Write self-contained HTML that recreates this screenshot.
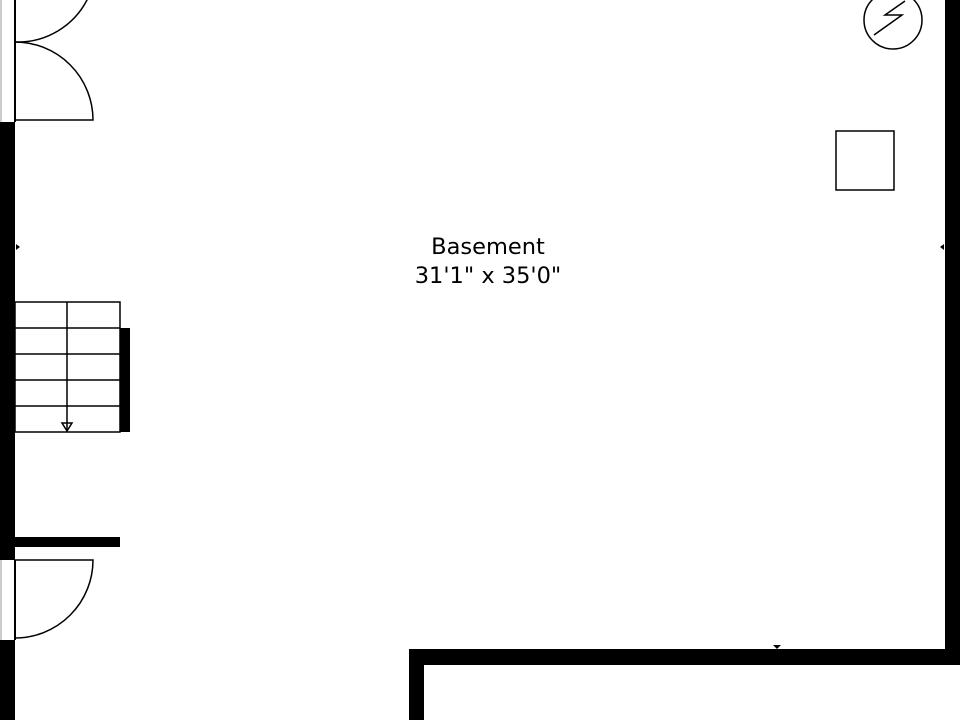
<!DOCTYPE html>
<html><head><style>body{margin:0;background:#fff}svg{display:block}</style></head><body>
<svg width="960" height="720" viewBox="0 0 960 720" xmlns="http://www.w3.org/2000/svg">
<rect width="960" height="720" fill="#fff"/>
<line x1="1" y1="0" x2="1" y2="122" stroke="#999" stroke-width="1"/>
<line x1="15" y1="0" x2="15" y2="122" stroke="#000" stroke-width="2"/>
<rect x="0" y="122" width="15" height="438" fill="#000"/>
<line x1="1" y1="560" x2="1" y2="640" stroke="#999" stroke-width="1"/>
<line x1="15" y1="560" x2="15" y2="640" stroke="#000" stroke-width="2"/>
<rect x="0" y="640" width="15" height="80" fill="#000"/>
<rect x="15" y="537" width="105" height="10" fill="#000"/>
<g fill="none" stroke="#000" stroke-width="1.5">
<path d="M15 42 A78 78 0 0 0 88 -2"/>
<path d="M15 42 A78 78 0 0 1 93 120 L15 120"/>
<path d="M15 560 L93 560 A78 78 0 0 1 15 638"/>
<rect x="15" y="302" width="105" height="130"/>
<line x1="15" y1="328" x2="120" y2="328"/>
<line x1="15" y1="354" x2="120" y2="354"/>
<line x1="15" y1="380" x2="120" y2="380"/>
<line x1="15" y1="406" x2="120" y2="406"/>
<line x1="67" y1="302" x2="67" y2="432"/>
<path d="M62 423 L67 431 L72 423 Z"/>
<circle cx="893" cy="20" r="29"/>
<path d="M874 35 L902 15 L885 15 L905 1"/>
<rect x="836" y="131" width="58" height="59"/>
</g>
<rect x="120" y="328" width="10" height="104" fill="#000"/>
<rect x="945" y="0" width="15" height="665" fill="#000"/>
<rect x="409" y="649" width="551" height="16" fill="#000"/>
<rect x="409" y="649" width="15" height="71" fill="#000"/>
<path d="M16 244 L20 247 L16 250Z M944 244 L940 247 L944 250Z M773 645 L777 649 L781 645Z" fill="#000"/>
<text x="488" y="254" font-family="'DejaVu Sans','Liberation Sans',sans-serif" font-size="22.5" text-anchor="middle">Basement</text>
<text x="488" y="283" font-family="'DejaVu Sans','Liberation Sans',sans-serif" font-size="22.5" text-anchor="middle">31'1" x 35'0"</text>
</svg>
</body></html>
